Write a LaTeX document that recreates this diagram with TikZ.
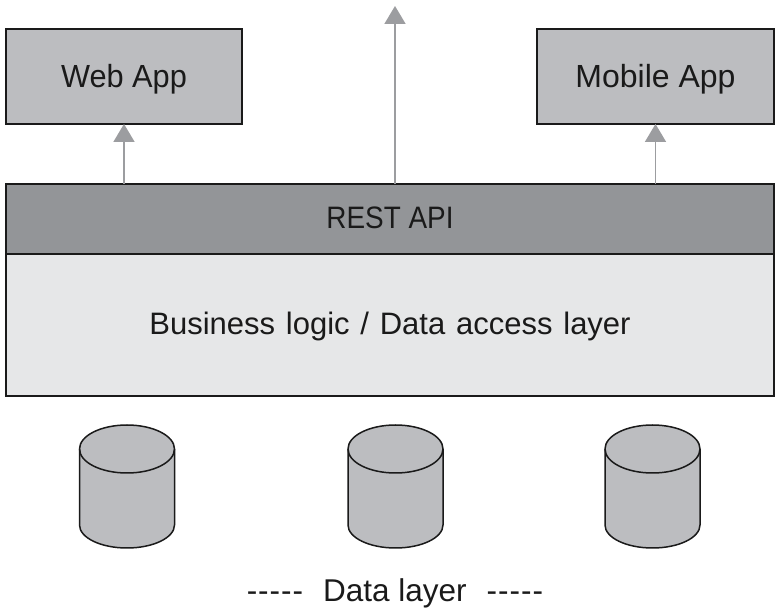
\documentclass[tikz,border=0pt]{standalone}
\usepackage{fontspec}
\setmainfont{Liberation Sans}
\usetikzlibrary{arrows.meta,calc}
\definecolor{boxgray}{HTML}{BCBDC0}
\definecolor{apigray}{HTML}{939598}
\definecolor{logicgray}{HTML}{E6E7E8}
\definecolor{arrowgray}{HTML}{9C9DA0}
\definecolor{ink}{HTML}{1A1A1A}
\tikzset{
  layerbox/.style={draw=ink,line width=1.8pt,anchor=north west,inner sep=0pt,outer sep=0pt,text=ink,text depth=0pt,text height=20pt,font=\fontsize{31}{36}\selectfont},
  appbox/.style={layerbox,fill=boxgray,minimum height=95pt,text height=23pt,font=\fontsize{32}{36}\selectfont},
  flowarrow/.style={draw=arrowgray,line width=1.8pt,-{Triangle[width=21pt,length=18pt,fill=arrowgray]}},
  drum/.style={inner sep=0pt,outer sep=0pt,minimum width=95pt,minimum height=123pt},
  drumline/.style={draw=ink,line width=1.5pt,fill=boxgray,line join=round},
  caption/.style={text=ink,font=\fontsize{31.5}{36}\selectfont,inner sep=0pt,anchor=base}
}
\begin{document}
\begin{tikzpicture}[x=1pt,y=-1pt]
\useasboundingbox (0,0) rectangle (780,612);
\fill[white] (0,0) rectangle (780,612);
\node[appbox,minimum width=236pt] (web) at (6,29) {\addfontfeature{FakeStretch=0.96}Web App};
\node[appbox,minimum width=237pt] (mobile) at (537,29) {Mobile App};
\node[layerbox,fill=logicgray,minimum width=768pt,minimum height=142pt] (logic) at (6,254) {\spaceskip=10.8pt Business logic / Data access layer};
\node[layerbox,fill=apigray,minimum width=768pt,minimum height=70pt] (api) at (6,184) {\addfontfeature{FakeStretch=0.9}REST API};
\coordinate (apitop) at (395,6);
\draw[flowarrow] (api.north -| web.south) -- (web.south);
\draw[flowarrow] (api.north -| apitop) -- (apitop);
\draw[flowarrow] (api.north -| mobile.south) -- (mobile.south);
\node[drum] (db1) at (127,486.5) {};
\node[drum] (db2) at (395.5,486.5) {};
\node[drum] (db3) at (652.5,486.5) {};
\foreach \d in {db1,db2,db3}{
  \path[drumline] ($(\d.north west)+(0,24)$) -- ($(\d.south west)+(0,-23)$)
    arc[start angle=180,end angle=360,x radius=47.5pt,y radius=23pt]
    -- ($(\d.north east)+(0,24)$)
    arc[start angle=0,end angle=180,x radius=47.5pt,y radius=24pt];
  \draw[draw=ink,line width=1.5pt] ($(\d.north west)+(0,24)$)
    arc[start angle=180,end angle=360,x radius=47.5pt,y radius=24pt];
}
\node[caption] (datalayer) at (395,601) {{-}\kern1pt{-}\kern1pt{-}\kern1pt{-}\kern1pt{-}\hspace{20pt}Data layer\hspace{20pt}{-}\kern1pt{-}\kern1pt{-}\kern1pt{-}\kern1pt{-}};
\end{tikzpicture}
\end{document}
